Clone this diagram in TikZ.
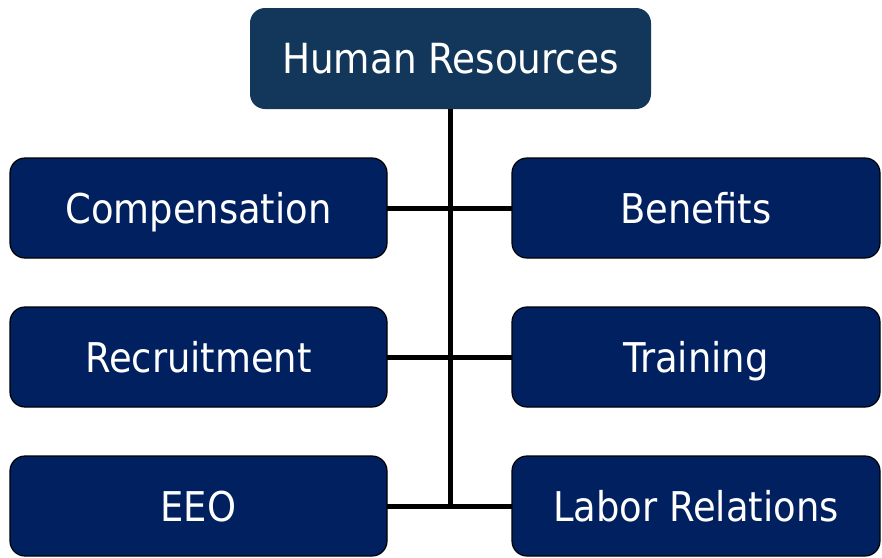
\documentclass[tikz,border=0pt]{standalone}
\usepackage{fontspec}
\setmainfont{DejaVu Sans Condensed}
\definecolor{hrteal}{HTML}{12375A}
\definecolor{hrnavy}{HTML}{002060}
\begin{document}
\begin{tikzpicture}[
       x=1pt,y=-1pt,
       line width=5pt,
       chef/.style={
         rectangle,
         rounded corners=15pt,
         fill=hrteal,
         text=white,
         outer sep=0pt,
         font=\fontsize{41.5}{49}\selectfont,
         text height=30pt,
         text depth=0pt,
         minimum width=401pt,
         minimum height=101pt
       },
       poste/.style={
         rectangle,
         rounded corners=15pt,
         draw=black,
         line width=1.2pt,
         fill=hrnavy,
         text=white,
         outer sep=0pt,
         font=\fontsize{41}{49}\selectfont,
         text height=30pt,
         text depth=0pt,
         minimum height=100pt
       },
       gauche/.style={poste, minimum width=377pt},
       droite/.style={poste, minimum width=368pt}
     ]
       \useasboundingbox (0,0) rectangle (882,557);

       \node (hr) at (450.5,58.5) [chef]{Human Resources};

       \node (comp) at (198.5,208) [gauche]{Compensation};
       \node (recr) at (198.5,357) [gauche]{Recruitment};
       \node (eeo) at (198.5,506) [gauche]{EEO};

       \node (ben) at (696,208) [droite]{Benefits};
       \node (train) at (696,357) [droite]{Training};
       \node (labor) at (696,506) [droite]{Labor Relations};

       \coordinate (bas) at (450.5,506);

       \draw (hr.south) -- (bas);

       \draw (comp.east) -- (ben.west);
       \draw (recr.east) -- (train.west);
       \draw (eeo.east) -- (labor.west);

\end{tikzpicture}
\end{document}
